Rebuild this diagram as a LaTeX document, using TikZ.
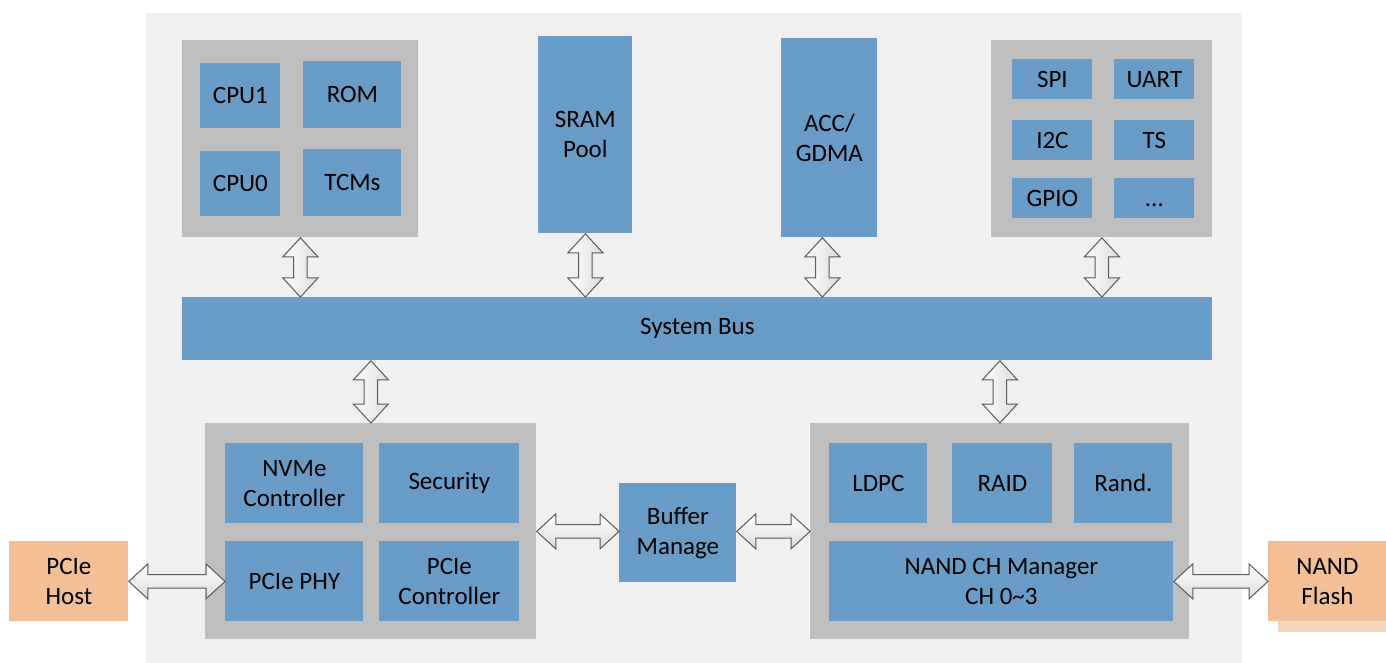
\documentclass[tikz,border=0pt]{standalone}
\usepackage{fontspec}
\setmainfont{Carlito}
\usetikzlibrary{calc}

\definecolor{bgcol}{HTML}{F0F0F0}
\definecolor{grpcol}{HTML}{BFBFBF}
\definecolor{blkcol}{HTML}{6A9CC8}
\definecolor{extcol}{HTML}{F3BF96}
\definecolor{shdcol}{HTML}{F8D6BB}
\definecolor{arrcol}{HTML}{595959}

\tikzset{
	grp/.style={fill=grpcol, inner sep=0pt, anchor=north west},
	blk/.style={fill=blkcol, inner sep=0pt, anchor=north west, align=center,
		font=\fontsize{12.5}{15}\selectfont},
	ext/.style={blk, fill=extcol},
	barrow/.style={draw=arrcol, line width=0.5pt, line join=miter},
	vfill/.style={left color=white, right color=black!14},
	hfill/.style={top color=white, bottom color=black!14}
}

% double block arrow between two points
\newcommand{\busarrow}[3][vfill]{%
	\draw[barrow, #1] (#2)
		-- ($(#2)!9.5pt!(#3)!8.75pt!90:(#3)$)
		-- ($(#2)!9.5pt!(#3)!3.4pt!90:(#3)$)
		-- ($(#3)!9.5pt!(#2)!3.4pt!-90:(#2)$)
		-- ($(#3)!9.5pt!(#2)!8.75pt!-90:(#2)$)
		-- (#3)
		-- ($(#3)!9.5pt!(#2)!8.75pt!90:(#2)$)
		-- ($(#3)!9.5pt!(#2)!3.4pt!90:(#2)$)
		-- ($(#2)!9.5pt!(#3)!3.4pt!-90:(#3)$)
		-- ($(#2)!9.5pt!(#3)!8.75pt!-90:(#3)$)
		-- cycle;}

\begin{document}
\begin{tikzpicture}[x=0.5pt, y=-0.5pt]

	\useasboundingbox (0,0) rectangle (1386,663);

	% chip area
	\fill[bgcol] (146,13) rectangle (1242,663);

	% cpu group
	\node[grp, minimum width=118pt, minimum height=98.5pt] (cpugrp) at (182,40) {};
	\node[blk, minimum width=40pt, minimum height=32.5pt] (cpu1) at (200,63) {CPU1};
	\node[blk, minimum width=49pt, minimum height=33.5pt] (rom) at (303,61) {ROM};
	\node[blk, minimum width=40pt, minimum height=32.5pt] (cpu0) at (200,151) {CPU0};
	\node[blk, minimum width=49pt, minimum height=33.5pt] (tcm) at (303,149) {TCMs};

	% memories
	\node[blk, minimum width=47pt, minimum height=98.5pt] (sram) at (538,36) {SRAM\\Pool};
	\node[blk, minimum width=48pt, minimum height=99.5pt] (acc) at (781,38) {ACC/\\GDMA};

	% peripherals
	\node[grp, minimum width=110.5pt, minimum height=98.5pt] (perigrp) at (991,40) {};
	\node[blk, minimum width=40pt, minimum height=20pt] (spi) at (1012,59) {SPI};
	\node[blk, minimum width=40pt, minimum height=20pt] (uart) at (1114,59) {UART};
	\node[blk, minimum width=40pt, minimum height=20pt] (iic) at (1012,120) {I2C};
	\node[blk, minimum width=40pt, minimum height=20pt] (ts) at (1114,120) {TS};
	\node[blk, minimum width=40pt, minimum height=20pt] (gpio) at (1012,178) {GPIO};
	\node[blk, minimum width=40pt, minimum height=20pt] (more) at (1114,178) {\vphantom{I}...};

	% bus
	\node[blk, minimum width=515pt, minimum height=31.5pt] (bus) at (182,297) {System Bus};

	% host side
	\node[grp, minimum width=165.5pt, minimum height=108pt] (pciegrp) at (205,423) {};
	\node[blk, minimum width=69pt, minimum height=40pt] (nvme) at (225,443) {NVMe\\Controller};
	\node[blk, minimum width=70pt, minimum height=40pt] (sec) at (379,443) {Security};
	\node[blk, minimum width=69pt, minimum height=40pt] (phy) at (225,541) {PCIe PHY};
	\node[blk, minimum width=70pt, minimum height=40pt] (pctl) at (379,541) {PCIe\\Controller};

	\node[blk, minimum width=58.5pt, minimum height=49.5pt] (buf) at (619,483) {Buffer\\Manage};

	% flash side
	\node[grp, minimum width=189.5pt, minimum height=108pt] (nandgrp) at (810,423) {};
	\node[blk, minimum width=49pt, minimum height=40pt] (ldpc) at (829,443) {LDPC};
	\node[blk, minimum width=50pt, minimum height=40pt] (raid) at (952,443) {RAID};
	\node[blk, minimum width=49pt, minimum height=40pt] (rnd) at (1074,443) {Rand.};
	\node[blk, minimum width=172pt, minimum height=40pt] (chm) at (829,541) {NAND CH Manager\\CH 0\textasciitilde3};

	% outside
	\node[ext, minimum width=59.5pt, minimum height=40pt] (host) at (9,541) {PCIe\\Host};
	\fill[shdcol] (1278,552) rectangle (1400,632);
	\node[ext, minimum width=59pt, minimum height=40pt] (flash) at (1268,541) {NAND\\Flash};

	% bus links
	\busarrow{cpugrp.south}{cpugrp.south |- bus.north}
	\busarrow{sram.south}{sram.south |- bus.north}
	\busarrow{[xshift=-3.5pt]acc.south}{[xshift=-3.5pt]acc.south |- bus.north}
	\busarrow{perigrp.south}{perigrp.south |- bus.north}
	\busarrow{pciegrp.north |- bus.south}{pciegrp.north}
	\busarrow{nandgrp.north |- bus.south}{nandgrp.north}

	% data path
	\busarrow[hfill]{host.east}{phy.west}
	\busarrow[hfill]{pciegrp.east}{pciegrp.east -| buf.west}
	\busarrow[hfill]{nandgrp.west -| buf.east}{nandgrp.west}
	\busarrow[hfill]{chm.east}{flash.west}

\end{tikzpicture}
\end{document}
